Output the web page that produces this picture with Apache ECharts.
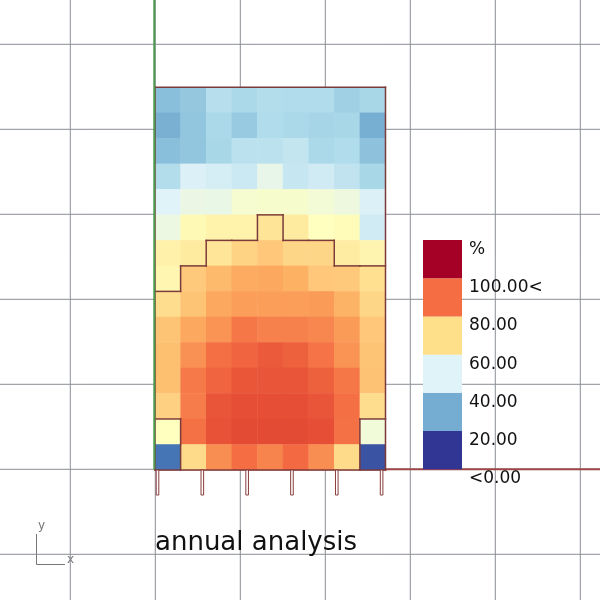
<!DOCTYPE html>
<html><head><meta charset="utf-8">
<script src="https://cdn.jsdelivr.net/npm/echarts@6/dist/echarts.min.js"></script>
<style>html,body{margin:0;padding:0;background:#fff}#c{width:600px;height:600px}</style>
</head><body><div id="c"></div>
<script>
// ---- data ----
const columnLabels = ['1','2','3','4','5','6','7','8','9'];
const rowLabels = ['1','2','3','4','5','6','7','8','9','10','11','12','13','14','15'];
const row01 = [24, 26, 32, 30, 31.5, 31, 31, 28, 29.5];
const row02 = [21, 25.5, 30, 26.5, 31, 30, 29, 29.5, 20.5];
const row03 = [24, 25.5, 29.5, 33, 33, 34.5, 30, 31, 24.5];
const row04 = [31.5, 39, 38, 36, 42.5, 35, 37, 34, 29.5];
const row05 = [40, 43.5, 43, 47, 47.5, 47.5, 46, 44.5, 39];
const row06 = [44, 52, 54, 54, 58.7, 56.5, 50, 51, 37];
const row07 = [54.5, 56.5, 58.5, 62.6, 65, 62, 62, 56, 53.5];
const row08 = [53, 64.6, 67.6, 70.5, 71, 69.5, 65, 64.6, 60];
const row09 = [60.5, 65.5, 71, 72.5, 72.5, 72.5, 73, 69, 62];
const row10 = [65.5, 71, 74, 78.5, 77, 77, 76, 73, 65];
const row11 = [66.5, 74.5, 79.7, 81.5, 83, 82, 79, 74, 65.5];
const row12 = [66.5, 78, 81.5, 83.8, 84, 84, 82, 78.5, 66];
const row13 = [63, 77.5, 84, 85, 85, 85, 84, 79.7, 60.5];
const row14 = [50, 79.5, 84.2, 85.5, 85.5, 85.5, 85, 79.5, 45.5];
const row15 = [10, 61, 75, 80, 76.5, 80.5, 75, 61, 4.6];
const contourLevel = 57.5;
const legendLabels = ['<0.00', '20.00', '40.00', '60.00', '80.00', '100.00<', '%'];
const legendColors = ['#313695', '#74add1', '#e0f3f8', '#fee08b', '#f46d43', '#a50026'];
const scaleColors = ['#313695','#4575b4','#74add1','#abd9e9','#e0f3f8','#ffffbf','#fee090','#fdae61','#f46d43','#d73027','#a50026'];
const tickPositions = [0, 1.75, 3.5, 5.25, 7, 8.75];
const viewLinesX = [-1, 0, 1, 2, 3, 4, 5];
const viewLinesY = [-1, 0, 1, 2, 3, 4, 5];

// ---- build ----
const rowsAll = [row01,row02,row03,row04,row05,row06,row07,row08,row09,row10,row11,row12,row13,row14,row15];
const nR = rowsAll.length, nC = columnLabels.length;
const heatData = [];
rowsAll.forEach((row, r) => row.forEach((v, c) => heatData.push([c, r, v])));
const edges = [];
for (let r = 0; r < nR; r++) {
  for (let c = 0; c < nC; c++) {
    const inside = rowsAll[r][c] >= contourLevel;
    if (c < nC - 1 && inside !== (rowsAll[r][c + 1] >= contourLevel)) edges.push([c + 1, r, c + 1, r + 1]);
    if (r < nR - 1 && inside !== (rowsAll[r + 1][c] >= contourLevel)) edges.push([c, r + 1, c + 1, r + 1]);
  }
}
edges.push([0, 0, nC, 0], [nC, 0, nC, nR], [nC, nR, 0, nR], [0, nR, 0, 0]);

// viewport grid: 85 px per unit, origin at (155.3, 469.3)
const VX0 = -155.3 / 85, VX1 = 444.7 / 85, VY0 = -130.7 / 85, VY1 = 469.3 / 85;
const viewLines = [];
viewLinesX.forEach(x => viewLines.push([x, VY0, x, VY1]));
viewLinesY.forEach(y => viewLines.push([VX0, y, VX1, y]));

const FONT = 'DejaVu Sans';
const hidden = {axisLine:{show:false}, axisTick:{show:false}, axisLabel:{show:false}, splitLine:{show:false}};
const border = '#7d3a3a';

const segRender = (color, width, cap) => (params, api) => {
  const p1 = api.coord([api.value(0), api.value(1)]);
  const p2 = api.coord([api.value(2), api.value(3)]);
  return {type:'line', shape:{x1:p1[0], y1:p1[1], x2:p2[0], y2:p2[1]}, style:{stroke:color, lineWidth:width, lineCap:cap}};
};

const legendSeries = legendColors.map((col) => ({
  type: 'bar', xAxisIndex: 3, yAxisIndex: 3, stack: 'legend', data: [1], barWidth: '100%',
  itemStyle: {color: col}, silent: true, z: 3
}));

const option = {
  animation: false,
  backgroundColor: '#ffffff',
  grid: [
    {left: 0, top: 0, width: 600, height: 600},
    {left: 155, top: 87.3, width: 230.5, height: 382.7},
    {left: 423, top: 240, width: 39, height: 229.3},
    {left: 423, top: 249.5, width: 39, height: 229.3}
  ],
  xAxis: [
    Object.assign({type:'value', gridIndex:0, min:VX0, max:VX1}, hidden),
    Object.assign({type:'category', gridIndex:1, data:columnLabels}, hidden),
    Object.assign({type:'value', gridIndex:1, min:0, max:nC}, hidden),
    Object.assign({type:'category', gridIndex:2, data:['legend'], boundaryGap:true}, hidden),
    Object.assign({type:'category', gridIndex:3, data:['labels']}, hidden)
  ],
  yAxis: [
    Object.assign({type:'value', gridIndex:0, min:VY0, max:VY1}, hidden),
    Object.assign({type:'category', gridIndex:1, data:rowLabels, inverse:true}, hidden),
    Object.assign({type:'value', gridIndex:1, min:0, max:nR, inverse:true}, hidden),
    Object.assign({type:'value', gridIndex:2, min:0, max:legendColors.length}, hidden),
    {type:'value', gridIndex:3, position:'right', min:0, max:legendLabels.length - 1, interval:1,
     axisLine:{show:false}, axisTick:{show:false}, splitLine:{show:false},
     axisLabel:{show:true, margin:7, fontSize:17, fontFamily:FONT, color:'#111', showMinLabel:true, showMaxLabel:true,
       formatter: v => legendLabels[Math.round(v)] || ''}}
  ],
  visualMap: {type:'continuous', show:false, seriesIndex:3, min:0, max:100, dimension:2, inRange:{color:scaleColors}},
  series: [
    {type:'custom', xAxisIndex:0, yAxisIndex:0, data:viewLines, silent:true, clip:false, z:0,
     renderItem: segRender('#8a8e94', 1, 'butt')},
    {type:'custom', xAxisIndex:0, yAxisIndex:0, data:[[0, 0, VX1, 0]], silent:true, clip:false, z:1,
     renderItem: segRender('#9a4646', 2, 'butt')},
    {type:'custom', xAxisIndex:0, yAxisIndex:0, data:[[-0.012, 0, -0.012, VY1]], silent:true, clip:false, z:6,
     renderItem: segRender('#4c9a50', 2, 'butt')},
    {type:'heatmap', xAxisIndex:1, yAxisIndex:1, data:heatData, silent:true, itemStyle:{borderWidth:0}, emphasis:{disabled:true}, z:2},
    {type:'custom', xAxisIndex:2, yAxisIndex:2, data:edges, silent:true, clip:false, z:4,
     renderItem: segRender(border, 1.5, 'square')},
    {type:'custom', xAxisIndex:2, yAxisIndex:2, data:tickPositions.map(t => [t]), silent:true, clip:false, z:4,
     renderItem: (params, api) => {
       const p = api.coord([api.value(0), nR]);
       return {type:'rect', shape:{x:p[0] + 1.2, y:p[1], width:2.6, height:25}, style:{fill:'#fff', stroke:'#8a3c3c', lineWidth:1}};
     }},
    ...legendSeries
  ],
  graphic: [
    {type:'text', left:155, top:530, style:{text:'annual analysis', fontSize:26, fontFamily:FONT, fill:'#111'}, z:10},
    {type:'line', shape:{x1:36.5, y1:534, x2:36.5, y2:564.5}, style:{stroke:'#777', lineWidth:1}},
    {type:'line', shape:{x1:36.5, y1:564.5, x2:65, y2:564.5}, style:{stroke:'#777', lineWidth:1}},
    {type:'text', left:38, top:520, style:{text:'y', fontSize:12, fontFamily:FONT, fill:'#777'}},
    {type:'text', left:67, top:554, style:{text:'x', fontSize:12, fontFamily:FONT, fill:'#777'}}
  ]
};
const chart = echarts.init(document.getElementById('c'), null, {renderer:'canvas'});
chart.setOption(option);
</script></body></html>
